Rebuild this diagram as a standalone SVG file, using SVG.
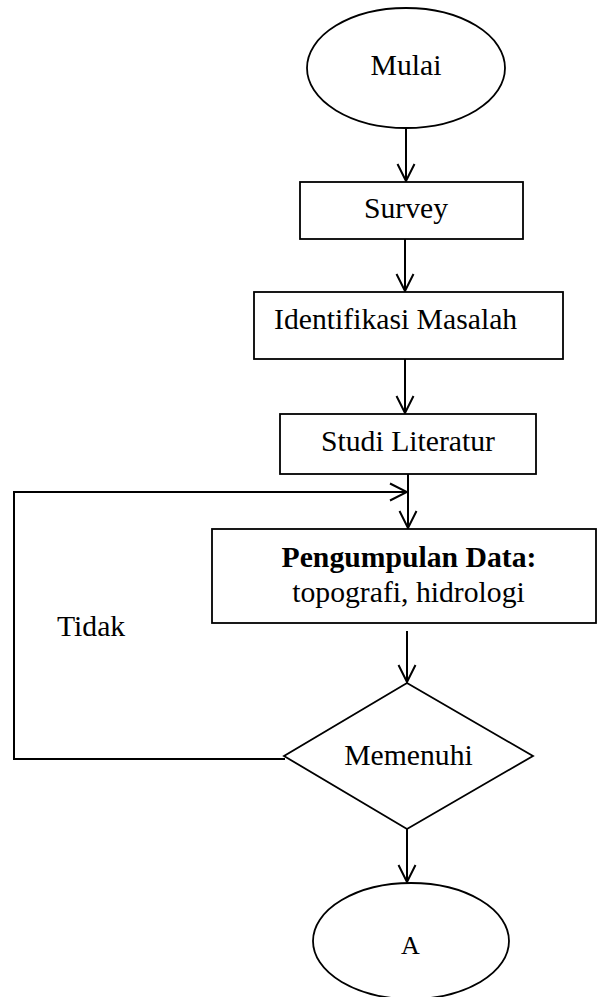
<svg xmlns="http://www.w3.org/2000/svg" width="597" height="997" viewBox="0 0 597 997">
<style>
.s{fill:#fff;stroke:#000;stroke-width:1.8}
.c{fill:none;stroke:#000;stroke-width:2}
.t{font-family:"Liberation Serif","Times New Roman",serif;font-size:29.7px;fill:#000}
.m{text-anchor:middle}
.b{font-weight:bold}
</style>
<defs>
<marker id="arr" viewBox="0 0 20 20" markerWidth="20" markerHeight="20" refX="18" refY="10" orient="auto" markerUnits="userSpaceOnUse">
<path d="M1,1.5 L18,10 L1,18.5" fill="none" stroke="#000" stroke-width="2"/>
</marker>
</defs>
<rect width="597" height="997" fill="#fff"/>
<g id="connectors">
<path class="c" d="M406,128 V181" marker-end="url(#arr)"/>
<path class="c" d="M405,239 V291" marker-end="url(#arr)"/>
<path class="c" d="M405,359 V413" marker-end="url(#arr)"/>
<path class="c" d="M408,474 V528" marker-end="url(#arr)"/>
<path class="c" d="M285,759 H14 V492 H407" marker-end="url(#arr)"/>
<path class="c" d="M407,631 V682" marker-end="url(#arr)"/>
<path class="c" d="M407,829 V882" marker-end="url(#arr)"/>
<text class="t" x="57" y="636">Tidak</text>
</g>
<g id="mulai">
<ellipse class="s" cx="406" cy="68" rx="99" ry="60"/>
<text class="t m" x="406" y="75">Mulai</text>
</g>
<g id="survey">
<rect class="s" x="300" y="182" width="223" height="57"/>
<text class="t m" x="406" y="218">Survey</text>
</g>
<g id="identifikasi">
<rect class="s" x="254" y="292" width="309" height="67"/>
<text class="t" x="274" y="329">Identifikasi Masalah</text>
</g>
<g id="studi">
<rect class="s" x="280" y="414" width="256" height="60"/>
<text class="t m" x="408" y="451">Studi Literatur</text>
</g>
<g id="pengumpulan">
<rect class="s" x="212" y="529" width="384" height="94"/>
<text class="t m b" x="409" y="567">Pengumpulan Data:</text>
<text class="t m" x="408.5" y="602">topografi, hidrologi</text>
</g>
<g id="memenuhi">
<polygon class="s" points="407,683 533,756 407,829 284,756"/>
<text class="t m" x="408.5" y="765">Memenuhi</text>
</g>
<g id="a">
<ellipse class="s" cx="411" cy="941" rx="98" ry="58"/>
<text class="t m" x="410.5" y="954" style="font-size:26px">A</text>
</g>
</svg>
